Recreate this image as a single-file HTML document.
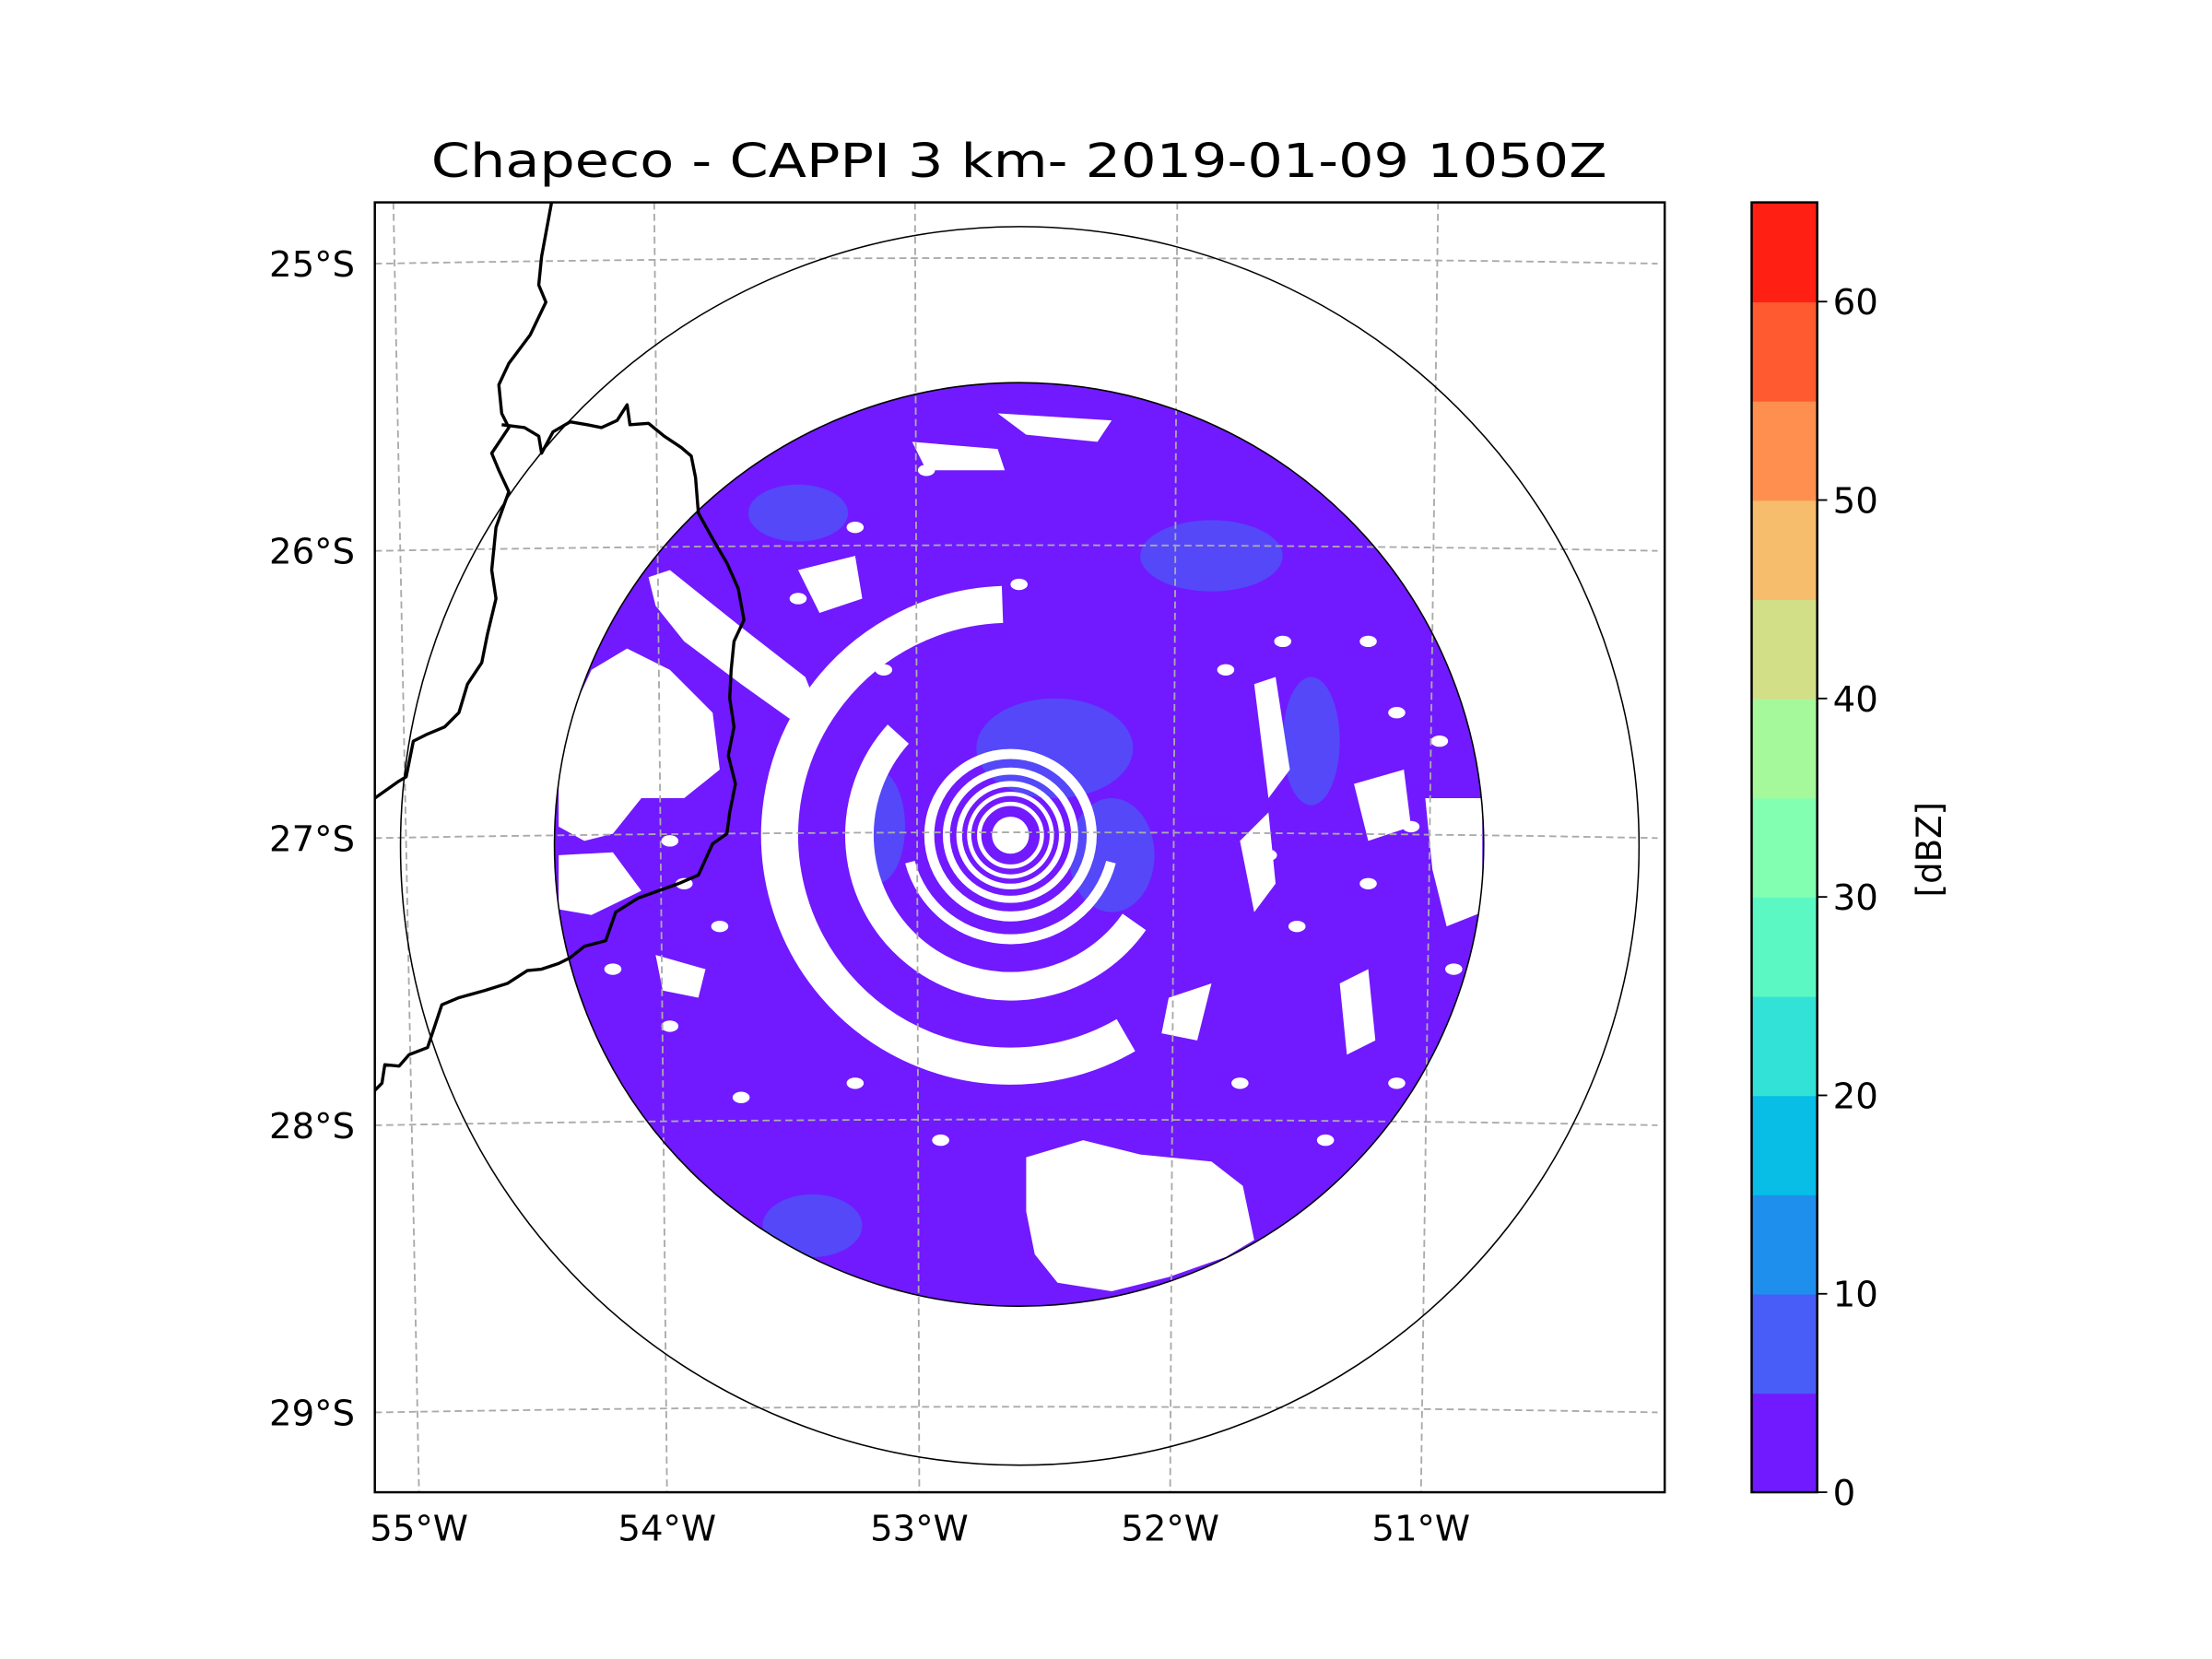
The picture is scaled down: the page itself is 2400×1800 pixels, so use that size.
<!DOCTYPE html>
<html><head><meta charset="utf-8"><style>
html,body{margin:0;padding:0;background:#fff;}
svg{display:block;}
text{font-family:"DejaVu Sans","Liberation Sans",sans-serif;fill:#000;}
</style></head><body>
<svg id="fig" width="2400" height="1800" viewBox="0 0 1552 1164" xmlns="http://www.w3.org/2000/svg">
<defs>
<clipPath id="axclip"><rect x="263" y="142" width="905" height="905"/></clipPath>
<clipPath id="radclip"><ellipse cx="715" cy="592.5" rx="326" ry="324"/></clipPath>
</defs>
<text x="715" y="124" font-size="33" text-anchor="middle" textLength="825" lengthAdjust="spacingAndGlyphs">Chapeco - CAPPI 3 km- 2019-01-09 1050Z</text>
<g id="map" clip-path="url(#axclip)">
  <g id="radar" clip-path="url(#radclip)"></g>
  <g id="grid"></g>
  <g id="borders" fill="none" stroke="#000" stroke-width="2.2" stroke-linejoin="round"></g>
  <ellipse cx="715" cy="592.5" rx="326" ry="324" fill="none" stroke="#000" stroke-width="1"/>
  <ellipse cx="715.5" cy="593.5" rx="434.5" ry="434.5" fill="none" stroke="#000" stroke-width="1"/>
</g>
<rect x="263" y="142" width="905" height="905" fill="none" stroke="#000" stroke-width="1.6"/>
<g id="labels"></g>
<g id="cbar"></g>
<text x="0" y="0" font-size="24" text-anchor="middle" transform="translate(1362,596) rotate(-90)">[dBZ]</text>
</svg>
<script>
const NS='http://www.w3.org/2000/svg';
// colorbar data
const cbLevels=[0,5,10,15,20,25,30,35,40,45,50,55,60,65];
const cbColors=['#7119ff','#485cf7','#1f8fed','#08bde6','#33e2d6','#5cf8c4','#82ffb1','#a5f99b','#d2df87','#f5bd6c','#ff8f4f','#ff5a30','#ff1f13'];
const cbTicks=[0,10,20,30,40,50,60];
// map grid data
const latTicks=['25°S','26°S','27°S','28°S','29°S'];
const latVals=[-25,-26,-27,-28,-29];
const lonTicks=['55°W','54°W','53°W','52°W','51°W'];
const lonVals=[-55,-54,-53,-52,-51];
// radar echo structure (radius in display px, angles deg)
const ringRadii=[22,29,36,45,57];
const ringWidths=[3,3,4,5,7];
const arcRadii=[73,106,162];
const arcWidths=[7,20,26];
const arcStarts=[15,35,60];
const arcEnds=[165,222,268];

function el(tag,attrs,parent){const e=document.createElementNS(NS,tag);for(const k in attrs)e.setAttribute(k,attrs[k]);parent.appendChild(e);return e;}
function latY(lat,x){const base=588+(lat+27)*-201.5;const t=(x-715)/450;return base-4+4*t*t;}
function lonX(lon,y){const top=[276,459,642,826,1009],bot=[294,468,645,821,997];const i=lon+55;const f=(y-142)/905;return top[i]+(bot[i]-top[i])*f;}

// colorbar
const cb=document.getElementById('cbar');
const cbX=1229,cbW=46,cbTop=142,cbBot=1047;
function cbY(v){return cbBot-(v-cbLevels[0])/(cbLevels[cbLevels.length-1]-cbLevels[0])*(cbBot-cbTop);}
for(let i=0;i<cbColors.length;i++){
  const r=el('rect',{x:cbX,y:cbY(cbLevels[i+1]),width:cbW,height:cbY(cbLevels[i])-cbY(cbLevels[i+1])+0.5,fill:cbColors[i]},cb);
  
  
}
el('rect',{x:cbX,y:cbTop,width:cbW,height:cbBot-cbTop,fill:'none',stroke:'#000','stroke-width':1.6},cb);
cbTicks.forEach(v=>{
  const y=cbY(v);
  el('line',{x1:cbX+cbW,x2:cbX+cbW+7,y1:y,y2:y,stroke:'#000','stroke-width':1.2},cb);
  const t=el('text',{x:cbX+cbW+11,y:y+9,'font-size':25},cb);t.textContent=v;
  
  
});

// gridlines + labels
const g=document.getElementById('grid'),lab=document.getElementById('labels');
latVals.forEach((lat,i)=>{
  let d='';for(let x=263;x<=1168;x+=15){d+=(x==263?'M':'L')+x+','+latY(lat,x).toFixed(1);}
  const p=el('path',{d:d,fill:'none',stroke:'#aaa','stroke-width':1.2,'stroke-dasharray':'5,3'},g);
  
  
  const t=el('text',{x:249,y:latY(lat,263)+9,'font-size':25,'text-anchor':'end'},lab);t.textContent=latTicks[i];
  
  
});
lonVals.forEach((lon,i)=>{
  const p=el('line',{x1:lonX(lon,142),y1:142,x2:lonX(lon,1047),y2:1047,stroke:'#aaa','stroke-width':1.2,'stroke-dasharray':'5,3'},g);
  
  
  const t=el('text',{x:lonX(lon,1047),y:1081,'font-size':25,'text-anchor':'middle'},lab);t.textContent=lonTicks[i];
  
  
});

// borders
const b=document.getElementById('borders');
const b1='M387,142 L380,180 L378,200 L383,212 L372,235 L357,255 L350,270 L352,290 L357,300 L345,318 L350,330 L357,345 L348,370 L345,400 L348,420 L342,445 L338,465 L328,480 L322,500 L312,510 L300,515 L290,520 L285,545 L280,548 L263,560';
const b2='M352,298 L368,300 L378,306 L380,318 L388,303 L400,296 L412,298 L422,300 L433,295 L440,284 L442,298 L455,297 L466,306 L478,314 L485,320 L488,335 L490,360 L500,378 L510,395 L518,413 L522,435 L515,450 L513,470 L512,490 L515,510 L511,530 L516,550 L512,570 L510,585 L500,592 L495,603 L490,614 L476,620 L462,625 L448,630 L432,640 L425,660 L410,664 L400,672 L392,676 L380,680 L370,681 L356,690 L340,695 L322,700 L310,705 L305,720 L300,735 L287,740 L280,748 L270,747 L268,760 L263,765';
[b1,b2].forEach(d=>{const p=el('path',{d:d},b);});

// radar
const R=document.getElementById('radar');
const cx=709,cy=586;
el('rect',{x:380,y:260,width:680,height:670,fill:cbColors[0]},R);
[[740,525,55,35],[615,580,20,40],[570,860,35,22],[850,390,50,25],[920,520,20,45],[560,360,35,20],[780,600,30,40]].forEach(a=>{
  const e=el('ellipse',{cx:a[0],cy:a[1],rx:a[2],ry:a[3],fill:cbColors[1],opacity:0.7},R);
  
});
function pt(r,a){const t=a*Math.PI/180;return [cx+r*Math.cos(t),cy+r*Math.sin(t)];}
ringRadii.forEach((r,i)=>{
  const c=el('circle',{cx:cx,cy:cy,r:r,fill:'none',stroke:'#fff','stroke-width':ringWidths[i]},R);
  
});
el('circle',{cx:cx,cy:cy,r:13,fill:'#fff'},R);
arcRadii.forEach((r,i)=>{
  const s=pt(r,arcStarts[i]),e=pt(r,arcEnds[i]);
  const large=(arcEnds[i]-arcStarts[i])>180?1:0;
  const p=el('path',{d:`M${s[0]},${s[1]} A${r},${r} 0 ${large} 1 ${e[0]},${e[1]}`,fill:'none',stroke:'#fff','stroke-width':arcWidths[i]},R);
  
});
const gaps=['M720,812 L760,800 L800,810 L850,815 L872,832 L880,870 L860,882 L820,896 L780,906 L742,900 L726,880 L720,850 Z',
'M455,405 L470,400 L520,440 L565,475 L575,500 L555,505 L520,480 L480,450 L460,425 Z',
'M392,520 L415,470 L440,455 L470,470 L500,500 L505,540 L480,560 L450,560 L430,585 L410,590 L392,580 Z',
'M392,600 L430,598 L450,625 L415,642 L392,638 Z',
'M460,670 L495,680 L490,700 L465,695 Z',
'M880,480 L895,475 L905,540 L890,560 Z',
'M870,590 L890,570 L895,620 L880,640 Z',
'M1000,560 L1040,560 L1040,640 L1015,650 L1005,610 Z',
'M940,690 L960,680 L965,730 L945,740 Z',
'M560,400 L600,390 L605,420 L575,430 Z',
'M640,310 L700,315 L705,330 L650,330 Z',
'M700,290 L780,295 L770,310 L720,305 Z',
'M820,700 L850,690 L840,730 L815,725 Z',
'M950,550 L985,540 L990,580 L960,590 Z'];
gaps.forEach(d=>{const p=el('path',{d:d,fill:'#fff'},R);});
// speckles of missing echo
const speck=[[420,610],[440,530],[470,590],[480,620],[505,650],[600,370],[650,330],[690,320],[715,410],[760,300],[890,600],[910,650],[960,620],[990,580],[1020,680],[980,760],[930,800],[870,760],[620,470],[560,420],[430,680],[470,720],[520,770],[600,760],[660,800],[900,450],[860,470],[960,450],[980,500],[1010,520]];
speck.forEach(s=>{const c=el('ellipse',{cx:s[0],cy:s[1],rx:6,ry:4,fill:'#fff'},R);});
</script>
</body></html>
